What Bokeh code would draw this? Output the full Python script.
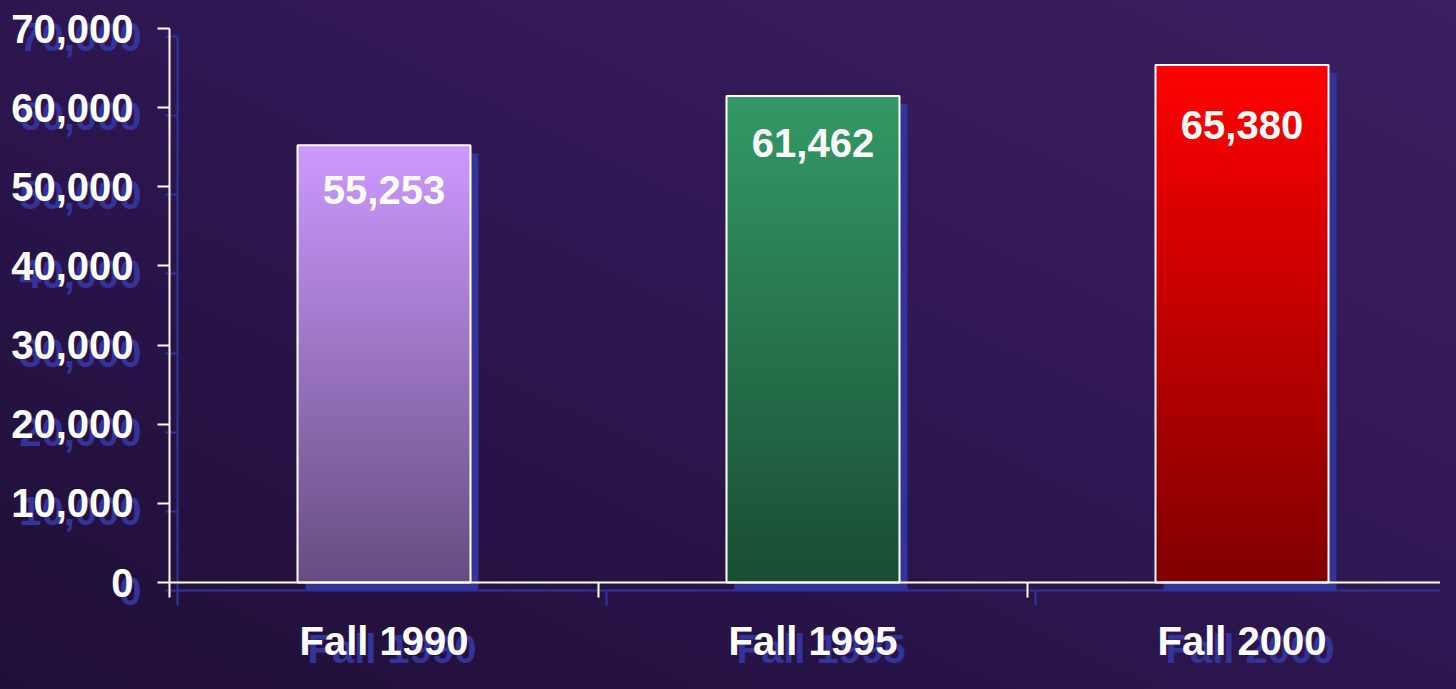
import numpy as np
from bokeh.plotting import figure
from bokeh.models import Range1d, LinearAxis, FixedTicker
from bokeh.core.properties import value
from bokeh.embed import file_html
from bokeh.resources import INLINE

# ---------------- data ----------------
categories = ["Fall 1990", "Fall 1995", "Fall 2000"]
enrollment = [55253, 61462, 65380]
y_ticks = [0, 10000, 20000, 30000, 40000, 50000, 60000, 70000]
y_tick_labels = ["0", "10,000", "20,000", "30,000", "40,000", "50,000", "60,000", "70,000"]

# ---------------- styles ----------------
bar_top_colors = [(204, 153, 255), (51, 153, 102), (255, 0, 0)]
label_drop_px = [45, 47, 60]
SHADOW = "#333399"
FONT = "Liberation Sans"
FS = "40px"

W, H = 1440, 673
axis_x_px = 169      # y-axis line position inside the figure
zero_y_px = 582      # y of value 0
top_y_px = 28        # y of top tick
cat_px = 429         # pixels per category
bar_w = 173 / cat_px
y_max = y_ticks[-1]
upp = y_max / (zero_y_px - top_y_px)
y_start = -(H - zero_y_px) * upp
y_end = y_max + top_y_px * upp
x_start = -axis_x_px / cat_px
x_end = (W - axis_x_px) / cat_px
SH = 8
dx = SH / cat_px
dy = SH * upp

p = figure(width=W, height=H, x_range=Range1d(x_start, x_end), y_range=Range1d(y_start, y_end),
           x_axis_type=None, y_axis_type=None, toolbar_location=None, output_backend="svg",
           min_border=0)
p.outline_line_color = None
p.background_fill_color = None
p.border_fill_color = None
p.extra_x_ranges = {"sx": Range1d(x_start - dx, x_end - dx)}
p.extra_y_ranges = {"sy": Range1d(y_start + dy, y_end + dy)}

centers = [i + 0.5 for i in range(len(categories))]

# shadows of bars
p.vbar(x=centers, top=enrollment, bottom=0, width=bar_w, x_range_name="sx", y_range_name="sy",
       fill_color=SHADOW, line_color=None)

# gradient fills
imgs = []
N = 256
for c in bar_top_colors:
    top = np.array(c, dtype=float)
    bot = top / 2.0
    t = np.linspace(0, 1, N)[:, None]
    rgb = bot[None, :] * (1 - t) + top[None, :] * t
    arr = np.zeros((N, 4, 4), dtype=np.uint8)
    arr[:, :, 0:3] = np.round(rgb)[:, None, :].astype(np.uint8)
    arr[:, :, 3] = 255
    imgs.append(arr.view(np.uint32).reshape(N, 4))
p.image_rgba(image=imgs, x=[c - bar_w / 2 for c in centers], y=[0] * len(centers),
             dw=[bar_w] * len(centers), dh=enrollment)

# outlines
p.vbar(x=centers, top=enrollment, bottom=0, width=bar_w, fill_color=None,
       line_color="white", line_width=2)

# value labels
p.text(x=centers, y=enrollment, text=[f"{v:,}" for v in enrollment], y_offset=label_drop_px,
       text_align="center", text_baseline="middle", text_color="white",
       text_font=value(FONT), text_font_style="bold", text_font_size=FS)


def style_labels(ax, color):
    ax.major_label_text_color = color
    ax.major_label_text_font = FONT
    ax.major_label_text_font_style = "bold"
    ax.major_label_text_font_size = FS
    ax.minor_tick_line_color = None


def make_y_axis(shadow):
    color = SHADOW if shadow else "white"
    ax = LinearAxis(ticker=FixedTicker(ticks=y_ticks, minor_ticks=[]),
                    major_label_overrides=dict(zip(y_ticks, y_tick_labels)),
                    bounds=(0, y_max), fixed_location=(dx if shadow else 0))
    ax.axis_line_color = color
    ax.axis_line_width = 2
    ax.major_tick_line_color = color
    ax.major_tick_line_width = 2
    ax.major_tick_out = 12
    ax.major_tick_in = 0
    ax.major_label_standoff = 24
    style_labels(ax, color)
    if shadow:
        ax.y_range_name = "sy"
        ax.level = "underlay"
    p.add_layout(ax, "left")


def make_x_axes(shadow):
    color = SHADOW if shadow else "white"
    bounds_ticks = list(range(len(categories) + 1))
    ax = LinearAxis(ticker=FixedTicker(ticks=bounds_ticks, minor_ticks=[]),
                    major_label_overrides={t: "" for t in bounds_ticks},
                    bounds=(0, len(categories)), fixed_location=(-dy if shadow else 0))
    ax.axis_line_color = color
    ax.axis_line_width = 2
    ax.major_tick_line_color = color
    ax.major_tick_line_width = 2
    ax.major_tick_out = 15
    ax.major_tick_in = 0
    ax.major_label_text_font_size = "0px"
    ax.minor_tick_line_color = None
    lab = LinearAxis(ticker=FixedTicker(ticks=centers, minor_ticks=[]),
                     major_label_overrides=dict(zip(centers, categories)),
                     fixed_location=(-dy if shadow else 0))
    lab.axis_line_color = None
    lab.major_tick_line_color = None
    lab.major_label_standoff = 30
    style_labels(lab, color)
    if shadow:
        for a in (ax, lab):
            a.x_range_name = "sx"
            a.level = "underlay"
    p.add_layout(ax, "below")
    p.add_layout(lab, "below")


make_y_axis(True)
make_x_axes(True)
make_y_axis(False)
make_x_axes(False)

html = file_html(p, INLINE, title="Enrollment")
css = ("<style>html{background:linear-gradient(to top right,#1f0e36 0%,#2d1650 50%,#3c1f63 100%) fixed;"
       "min-height:100%;} body{background:transparent;}</style></head>")
html = html.replace("</head>", css, 1)
open("out.html", "w").write(html)
